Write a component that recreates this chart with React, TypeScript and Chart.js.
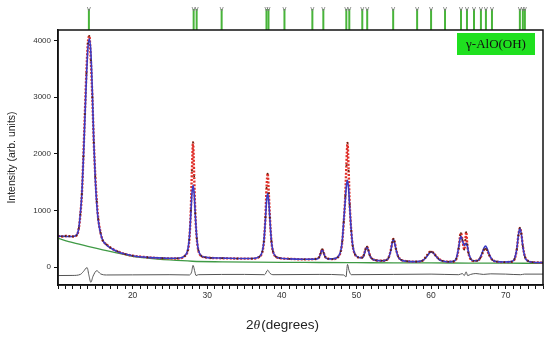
import React, { useEffect, useRef } from 'react';
import { Chart, registerables } from 'chart.js';
Chart.register(...registerables);

// ---- data ----
const twoTheta = [
  10.0, 10.5, 11.0, 11.5, 12.0, 12.5, 12.8, 13.0, 13.2, 13.4, 13.6, 13.8, 14.0, 14.2, 14.4, 14.6, 14.8, 15.0, 15.2, 15.4,
  15.7, 16.0, 16.5, 17.0, 18.0, 19.0, 20.0, 22.0, 24.0, 26.0, 27.0, 27.4, 27.6, 27.8, 27.95, 28.1, 28.25, 28.4, 28.6, 28.8,
  29.2, 29.7, 30.5, 32.0, 34.0, 36.0, 37.0, 37.4, 37.6, 37.8, 37.95, 38.1, 38.25, 38.4, 38.6, 38.8, 39.2, 39.7, 41.0, 43.0,
  44.5, 45.0, 45.2, 45.4, 45.6, 45.8, 46.2, 46.8, 47.5, 47.9, 48.1, 48.3, 48.5, 48.65, 48.8, 48.95, 49.1, 49.3, 49.5, 49.8,
  50.2, 50.8, 51.0, 51.2, 51.4, 51.6, 51.8, 52.1, 52.6, 53.4, 54.0, 54.3, 54.6, 54.8, 54.95, 55.1, 55.3, 55.6, 56.0, 56.8,
  58.0, 58.8, 59.2, 59.5, 59.8, 60.0, 60.3, 60.6, 61.0, 61.5, 62.3, 63.0, 63.4, 63.7, 63.9, 64.0, 64.2, 64.45, 64.6, 64.7,
  64.85, 65.0, 65.3, 65.7, 66.2, 66.6, 66.9, 67.1, 67.3, 67.5, 67.8, 68.2, 68.8, 69.8, 70.8, 71.2, 71.5, 71.7, 71.9, 72.1,
  72.3, 72.6, 73.0, 73.6, 75.0,
];
const calculated = [
  545, 545, 540, 540, 540, 565, 700, 950, 1300, 1900, 2600, 3300, 3850, 4030, 3800, 3100, 2200, 1550, 1100, 820,
  600, 470, 390, 340, 270, 230, 200, 170, 158, 155, 200, 310, 515, 930, 1290, 1445, 1290, 930, 515, 310,
  200, 175, 162, 158, 152, 150, 185, 285, 465, 840, 1160, 1300, 1160, 840, 465, 285, 185, 160, 145, 138,
  140, 170, 240, 310, 250, 180, 145, 145, 175, 290, 470, 830, 1180, 1430, 1530, 1380, 1050, 650, 380, 230,
  175, 165, 210, 300, 355, 290, 200, 145, 118, 110, 125, 160, 290, 430, 490, 440, 310, 180, 125, 100,
  95, 110, 150, 200, 250, 265, 250, 200, 140, 105, 92, 100, 160, 350, 510, 545, 470, 380, 400, 420,
  380, 270, 150, 110, 110, 170, 270, 340, 370, 330, 220, 130, 95, 88, 95, 150, 330, 560, 690, 580,
  360, 170, 105, 85, 78,
];
const observed = [
  550, 540, 548, 545, 540, 560, 690, 930, 1290, 1950, 2700, 3420, 3950, 4080, 3650, 3000, 2200, 1600, 1160, 850,
  610, 470, 400, 345, 275, 228, 200, 172, 155, 152, 195, 290, 480, 1000, 1700, 2200, 1600, 950, 500, 300,
  195, 172, 160, 156, 150, 148, 182, 275, 450, 880, 1400, 1650, 1300, 870, 460, 280, 182, 158, 145, 136,
  142, 175, 245, 315, 255, 185, 148, 140, 172, 280, 450, 800, 1250, 1800, 2190, 1700, 1100, 640, 370, 225,
  172, 168, 215, 310, 360, 300, 205, 148, 120, 112, 122, 165, 300, 440, 495, 450, 320, 185, 128, 102,
  95, 108, 160, 215, 265, 270, 255, 205, 150, 110, 95, 98, 150, 330, 560, 600, 480, 310, 480, 615,
  400, 250, 140, 108, 112, 160, 250, 310, 320, 300, 210, 128, 96, 86, 93, 145, 320, 560, 690, 590,
  370, 175, 108, 86, 78,
];
const bkgTheta = [10, 12, 14, 16, 18, 20, 22, 25, 28, 32, 36, 40, 45, 50, 55, 60, 65, 70, 75];
const background = [505, 430, 365, 305, 245, 190, 158, 125, 102, 92, 86, 82, 80, 77, 74, 72, 70, 68, 66];
const diffTheta = [
  10, 12, 13.0, 13.4, 13.9, 14.15, 14.4, 14.7, 15.2, 15.7, 16.5, 20, 25, 27.6, 27.9, 28.1, 28.3, 28.5, 28.8, 35,
  37.7, 38.1, 38.4, 38.8, 45, 48.3, 48.6, 48.8, 49.0, 49.3, 55, 60, 63.7, 64.2, 64.45, 64.7, 64.9, 65.3, 66, 67,
  68, 70, 72, 72.5, 75,
];
const difference = [
  -150, -148, -130, -80, -10, -150, -270, -160, -65, -120, -140, -138, -135, -140, -90, 30, -60, -150, -135, -130,
  -135, -55, -110, -135, -130, -140, -175, 45, -60, -135, -130, -125, -135, -115, -150, -85, -150, -130, -115, -130,
  -120, -125, -135, -125, -125,
];
const reflections = [
  14.14, 28.18, 28.58, 31.93, 37.94, 38.21, 40.35, 44.09, 45.56, 48.64, 49.04, 50.78, 51.44, 54.92, 58.13, 60.0,
  61.87, 64.01, 64.81, 65.75, 66.68, 67.35, 68.16, 71.9, 72.3, 72.57,
];
const yTicks = [0, 1000, 2000, 3000, 4000];
const xLabelTicks = [20, 30, 40, 50, 60, 70];
const xMin = 10;
const xMax = 75;
const yMin = -317;
const yMax = 4185;
const phaseLabel = 'γ-AlO(OH)';
const yTitle = 'Intensity (arb. units)';

const pts = (xs: number[], ys: number[]) => xs.map((x, i) => ({ x, y: ys[i] }));

const overlay = {
  id: 'overlay',
  afterDraw(chart: any) {
    const { ctx, chartArea: a, scales } = chart;
    const x = scales.x;
    ctx.save();
    // reflection markers
    reflections.forEach((r) => {
      const px = x.getPixelForValue(r);
      ctx.strokeStyle = '#48b43a';
      ctx.lineWidth = 2;
      ctx.beginPath();
      ctx.moveTo(px, a.top - 21);
      ctx.lineTo(px, a.top);
      ctx.stroke();
      ctx.strokeStyle = '#7a7a7a';
      ctx.lineWidth = 0.8;
      ctx.beginPath();
      ctx.moveTo(px - 1.6, a.top - 23);
      ctx.lineTo(px, a.top - 19);
      ctx.lineTo(px + 1.6, a.top - 23);
      ctx.stroke();
    });
    // frame
    ctx.strokeStyle = '#111';
    ctx.lineWidth = 1.5;
    ctx.strokeRect(a.left, a.top, a.right - a.left, a.bottom - a.top);
    // phase label box
    const bw = 78, bh = 22;
    const bx = a.right - 8 - bw, by = a.top + 3;
    ctx.fillStyle = '#1fe01f';
    ctx.fillRect(bx, by, bw, bh);
    ctx.fillStyle = '#111';
    ctx.font = '13px "Liberation Serif", "DejaVu Serif", serif';
    ctx.textAlign = 'center';
    ctx.textBaseline = 'middle';
    ctx.fillText(phaseLabel, bx + bw / 2, by + bh / 2 + 1);
    // x axis title: 2θ(degrees)
    const cx = (a.left + a.right) / 2 - 18;
    const cy = a.bottom + 40;
    const fNorm = '13.5px "Liberation Sans", Arial, sans-serif';
    const fItal = 'italic 13.5px "Liberation Serif", serif';
    ctx.textBaseline = 'middle';
    ctx.textAlign = 'left';
    ctx.font = fNorm; const w1 = ctx.measureText('2').width;
    ctx.font = fItal; const w2 = ctx.measureText('θ').width;
    ctx.font = fNorm; const w3 = ctx.measureText('(degrees)').width;
    let sx = cx - (w1 + w2 + w3 + 1) / 2;
    ctx.fillStyle = '#222';
    ctx.font = fNorm; ctx.fillText('2', sx, cy); sx += w1;
    ctx.font = fItal; ctx.fillText('θ', sx, cy); sx += w2 + 1;
    ctx.font = fNorm; ctx.fillText('(degrees)', sx, cy);
    ctx.restore();
  },
};

export default function App() {
  const ref = useRef<HTMLCanvasElement | null>(null);
  useEffect(() => {
    document.body.style.margin = '0';
    const canvas = ref.current;
    if (!canvas) return;
    const minorTicks = Array.from({ length: xMax - xMin + 1 }, (_, i) => xMin + i);
    const chart = new Chart(canvas, {
      type: 'line',
      data: {
        datasets: [
          {
            label: 'obs points',
            data: pts(twoTheta, observed),
            showLine: false,
            pointRadius: 0.9,
            pointBorderWidth: 0,
            pointBackgroundColor: '#5a2410',
          },
          {
            label: 'calc',
            data: pts(twoTheta, calculated),
            borderColor: '#3b3bc4',
            borderWidth: 1.6,
            pointRadius: 0,
            cubicInterpolationMode: 'monotone',
          },
          {
            label: 'obs',
            data: pts(twoTheta, observed),
            borderColor: '#e0302a',
            borderWidth: 2.4,
            borderDash: [2, 1.5],
            pointRadius: 0,
            cubicInterpolationMode: 'monotone',
          },
          {
            label: 'background',
            data: pts(bkgTheta, background),
            borderColor: '#3f9a45',
            borderWidth: 1.3,
            pointRadius: 0,
            cubicInterpolationMode: 'monotone',
          },
          {
            label: 'difference',
            data: pts(diffTheta, difference),
            borderColor: '#555',
            borderWidth: 1,
            pointRadius: 0,
            cubicInterpolationMode: 'monotone',
          },
        ],
      },
      options: {
        responsive: false,
        animation: false,
        events: [],
        layout: { padding: { top: 30, right: 7, left: 0, bottom: 0 } },
        plugins: { legend: { display: false }, tooltip: { enabled: false } },
        scales: {
          x: {
            type: 'linear',
            min: xMin,
            max: xMax,
            afterBuildTicks: (s: any) => {
              s.ticks = minorTicks.map((v) => ({ value: v }));
            },
            afterFit: (s: any) => {
              s.height = 53;
            },
            ticks: {
              autoSkip: false,
              maxRotation: 0,
              padding: 2,
              color: '#333',
              font: { size: 8.5, family: '"Liberation Sans", Arial, sans-serif' },
              callback: (v: any) => (xLabelTicks.includes(Number(v)) ? String(v) : ''),
            },
            grid: { drawOnChartArea: false, tickLength: 4, color: '#111', tickColor: '#111' },
            border: { color: '#111', width: 1.5 },
          },
          y: {
            type: 'linear',
            min: yMin,
            max: yMax,
            afterBuildTicks: (s: any) => {
              s.ticks = yTicks.map((v) => ({ value: v }));
            },
            afterFit: (s: any) => {
              s.width = 58;
            },
            ticks: {
              padding: 3,
              color: '#333',
              font: { size: 8, family: '"Liberation Sans", Arial, sans-serif' },
              callback: (v: any) => String(v),
            },
            grid: { drawOnChartArea: false, tickLength: 4, color: '#111', tickColor: '#111' },
            border: { color: '#111', width: 1.5 },
            title: {
              display: true,
              text: yTitle,
              color: '#222',
              padding: { top: 6, bottom: 0 },
              font: { size: 10.5, family: '"Liberation Sans", Arial, sans-serif' },
            },
          },
        },
      },
      plugins: [overlay],
    } as any);
    return () => chart.destroy();
  }, []);
  return <canvas ref={ref} width={550} height={338} style={{ display: 'block' }} />;
}
